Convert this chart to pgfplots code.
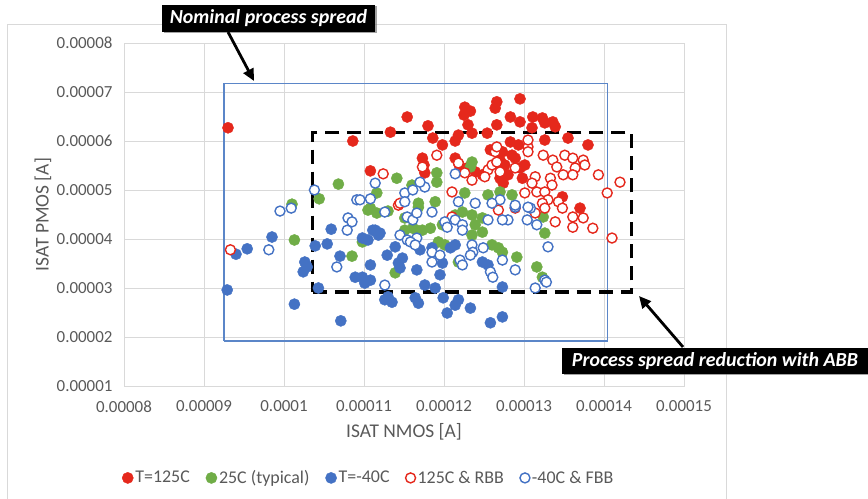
\documentclass[border=0pt]{standalone}
\usepackage{pgfplots}
\pgfplotsset{compat=1.18}
\usepackage{pgfplotstable}
\usepackage{fontspec}
\setmainfont{Carlito}
\usetikzlibrary{arrows.meta,shadows}
\definecolor{myred}{HTML}{E5281C}
\definecolor{mygreen}{HTML}{70AD47}
\definecolor{myblue}{HTML}{4472C4}
\definecolor{rectblue}{HTML}{5B86C8}
\definecolor{gridgray}{HTML}{D9D9D9}
\definecolor{ticktext}{HTML}{595959}

% values in units of 1e-5 A
\pgfplotstableread{
x y
9.30 6.27
10.86 6.00
11.08 5.39
11.33 6.18
11.54 6.49
11.80 6.31
11.73 5.65
11.75 5.51
11.76 5.35
11.86 6.06
11.98 5.92
12.14 6.00
12.18 6.12
12.26 6.69
12.33 6.61
12.25 6.53
12.30 6.33
12.35 6.16
12.54 6.16
12.64 6.67
12.66 6.80
12.66 6.33
12.14 5.65
12.19 5.51
12.29 5.45
12.39 5.37
12.48 5.31
12.95 6.86
12.83 6.49
12.95 6.39
13.11 6.49
13.23 6.47
13.26 6.37
13.36 6.39
13.39 6.29
13.10 6.27
13.26 6.02
13.55 6.06
13.80 5.92
12.73 5.78
12.83 5.98
12.93 5.92
12.89 5.65
12.76 5.51
12.95 5.45
12.80 5.31
12.70 5.24
12.74 5.14
13.01 5.51
12.98 5.24
13.48 4.86
13.70 4.63
12.70 5.61
12.58 5.82
12.85 5.71
}\redfilled

\pgfplotstableread{
x y
10.68 5.12
10.44 4.82
10.10 4.71
10.13 3.98
11.16 4.94
11.41 5.24
11.08 4.63
11.16 4.53
11.30 4.57
11.51 4.18
11.66 4.18
11.68 4.65
10.85 3.65
11.91 5.35
11.91 5.16
12.33 5.47
12.35 5.57
11.60 5.10
11.68 4.73
11.89 4.76
12.26 4.94
12.55 4.90
11.05 4.59
11.51 4.43
11.61 4.22
11.73 4.18
11.83 4.22
11.98 4.29
12.14 4.49
12.23 4.55
12.35 4.49
12.48 4.43
12.39 4.29
12.48 4.14
11.93 3.94
12.01 3.88
12.18 3.53
12.35 4.08
12.60 3.88
11.39 3.31
10.98 3.94
12.70 4.96
12.85 4.90
13.26 4.12
12.91 3.63
13.16 3.43
13.23 3.22
12.68 3.82
12.73 3.73
13.24 4.45
}\greenfilled

\pgfplotstableread{
x y
9.40 3.69
9.54 3.80
9.85 4.04
9.29 2.96
10.13 2.67
10.71 2.33
10.26 3.53
10.29 3.43
10.24 3.33
10.39 3.86
10.54 3.90
10.59 4.20
10.70 3.65
10.89 3.22
10.43 3.00
11.29 3.67
11.08 3.47
11.43 3.51
11.48 3.61
11.45 3.41
11.66 3.37
11.95 3.27
10.98 3.22
11.08 3.16
11.01 3.10
11.30 2.82
11.35 2.71
11.26 2.76
11.64 2.80
11.68 2.69
11.76 3.06
11.89 3.00
11.99 2.80
12.04 2.49
12.14 2.65
12.18 2.76
12.33 2.59
12.58 2.29
10.98 4.02
11.14 4.18
11.18 4.08
11.05 3.98
11.11 4.18
11.20 4.12
11.85 3.82
11.98 3.51
12.08 3.82
12.14 3.88
12.48 3.53
12.55 3.47
12.73 3.02
12.73 2.41
11.70 3.78
11.39 3.84
}\bluefilled

\pgfplotstableread{
x y
9.33 3.78
11.24 5.33
11.43 4.69
11.91 5.71
11.73 5.47
12.18 5.55
12.26 5.35
12.35 5.20
12.55 5.41
12.60 5.51
12.51 5.27
12.64 5.78
12.66 5.88
11.45 4.73
12.10 4.96
12.10 4.45
12.66 5.57
13.05 5.88
13.05 5.78
13.24 5.71
13.36 5.61
13.51 5.71
13.61 5.65
13.74 5.61
13.76 5.51
13.41 5.47
13.64 5.45
13.49 5.31
13.61 5.31
13.14 5.27
13.33 5.24
13.35 5.10
13.10 5.14
13.16 4.96
13.26 4.96
13.30 4.80
13.43 4.76
13.01 4.94
13.23 4.73
13.93 5.31
14.20 5.16
14.04 4.94
12.70 5.37
12.89 5.45
13.05 6.02
12.89 4.63
13.39 4.35
13.61 4.45
13.61 4.24
13.74 4.43
13.86 4.22
14.10 4.02
13.14 4.53
13.26 4.63
13.48 4.63
12.68 4.59
}\redopen

\pgfplotstableread{
x y
9.81 3.78
9.95 4.57
10.09 4.63
10.38 5.00
10.91 4.80
10.66 3.43
10.80 4.43
10.85 4.35
10.79 4.18
11.14 5.14
10.95 4.80
11.08 4.82
11.26 4.55
11.45 4.08
11.54 3.98
11.66 4.02
11.54 4.45
11.61 4.39
11.66 4.53
11.51 4.94
11.61 5.00
11.76 5.06
11.70 5.16
11.51 4.76
11.26 3.06
11.58 3.94
11.64 3.88
11.85 3.73
11.95 3.67
11.85 3.53
11.85 4.55
12.01 4.35
12.04 4.24
12.14 4.39
12.23 4.29
12.23 4.18
12.20 3.57
12.23 3.47
12.35 3.88
12.36 3.73
12.33 3.67
12.49 3.82
12.58 3.33
12.61 3.22
12.55 4.39
12.14 5.33
12.80 4.39
12.73 4.39
13.04 4.39
13.16 4.29
13.30 3.84
12.89 3.37
12.73 3.57
13.26 3.16
13.14 3.00
12.89 4.65
13.08 4.63
12.70 4.80
12.89 4.69
13.05 4.65
12.18 4.76
12.39 4.73
12.60 4.73
13.28 3.12
}\blueopen

\begin{document}
\begin{tikzpicture}
\path[use as bounding box] (0,0) rectangle (868bp,499bp);
\draw[gridgray, line width=1bp] (7bp,0) -- (7bp,474bp) -- (726bp,474bp) -- (726bp,0);
\begin{axis}[
  scale only axis, width=560bp, height=343bp,
  at={(124bp,113bp)}, anchor=south west,
  xmin=8, xmax=15, ymin=1, ymax=8,
  xtick={8,9,...,15}, ytick={1,2,...,8},
  xticklabels={0.00008,0.00009,0.0001,0.00011,0.00012,0.00013,0.00014,0.00015},
  yticklabels={0.00001,0.00002,0.00003,0.00004,0.00005,0.00006,0.00007,0.00008},
  grid=major, major grid style={draw=gridgray, line width=0.9bp},
  axis line style={draw=gridgray, line width=0.9bp},
  tick style={draw=none},
  tick label style={font=\fontsize{17}{20}\selectfont, text=ticktext},
  xticklabel style={yshift=-11bp},
  yticklabel style={xshift=-8bp},
  xlabel={ISAT NMOS [A]}, ylabel={ISAT PMOS [A]},
  xlabel style={at={(axis description cs:0.5,-0.134)}, anchor=center, font=\fontsize{19.5}{23}\selectfont, text=ticktext},
  ylabel style={at={(axis description cs:-0.1446,0.5)}, anchor=center, font=\fontsize{19.5}{23}\selectfont, text=ticktext},
  legend columns=5,
  legend style={at={(axis description cs:0.437,-0.268)}, anchor=center, draw=none, fill=none,
    font=\fontsize{18}{21}\selectfont, text=ticktext,
    /tikz/every even column/.append style={column sep=14bp}},
  legend cell align=left,
]
\addplot[only marks, mark=*, mark size=5.6bp, mark options={draw=myred, fill=myred}] table {\redfilled};
\addlegendentry{T=125C}
\addplot[only marks, mark=*, mark size=5.6bp, mark options={draw=mygreen, fill=mygreen}] table {\greenfilled};
\addlegendentry{25C (typical)}
\addplot[only marks, mark=*, mark size=5.6bp, mark options={draw=myblue, fill=myblue}] table {\bluefilled};
\addlegendentry{T=-40C}
\addplot[only marks, mark=*, mark size=5bp, mark options={draw=myred, fill=white, line width=1.4bp}] table {\redopen};
\addlegendentry{125C \& RBB}
\addplot[only marks, mark=*, mark size=5bp, mark options={draw=myblue, fill=white, line width=1.4bp}] table {\blueopen};
\addlegendentry{-40C \& FBB}
\addplot[rectblue, line width=1.2bp, forget plot] coordinates {(9.25,1.92) (14.04,1.92) (14.04,7.18) (9.25,7.18) (9.25,1.92)};
\addplot[black, line width=3.3bp, dash pattern=on 14bp off 8bp, forget plot] coordinates {(10.36,2.92) (14.34,2.92) (14.34,6.18) (10.36,6.18) (10.36,2.92)};
\end{axis}
\node[fill=black, text=white, font=\fontsize{20}{23}\selectfont\bfseries\itshape, minimum width=213bp, minimum height=27bp, inner sep=0pt, drop shadow={shadow xshift=1.5bp, shadow yshift=-1.5bp, fill=black!60, opacity=0.6}] at (268.5bp,480.5bp) {Nominal process spread};
\draw[black, line width=2.8bp, -{Triangle[length=12bp,width=11bp]}] (228bp,467bp) -- (254bp,418bp);
\node[fill=black, text=white, font=\fontsize{20}{23}\selectfont\bfseries\itshape, minimum width=306bp, minimum height=26bp, inner sep=0pt, drop shadow={shadow xshift=1.5bp, shadow yshift=-1.5bp, fill=black!60, opacity=0.6}] at (715bp,138bp) {Process spread reduction with ABB};
\draw[black, line width=2.8bp, -{Triangle[length=12bp,width=11bp]}] (683bp,152bp) -- (639bp,203bp);
\end{tikzpicture}
\end{document}
